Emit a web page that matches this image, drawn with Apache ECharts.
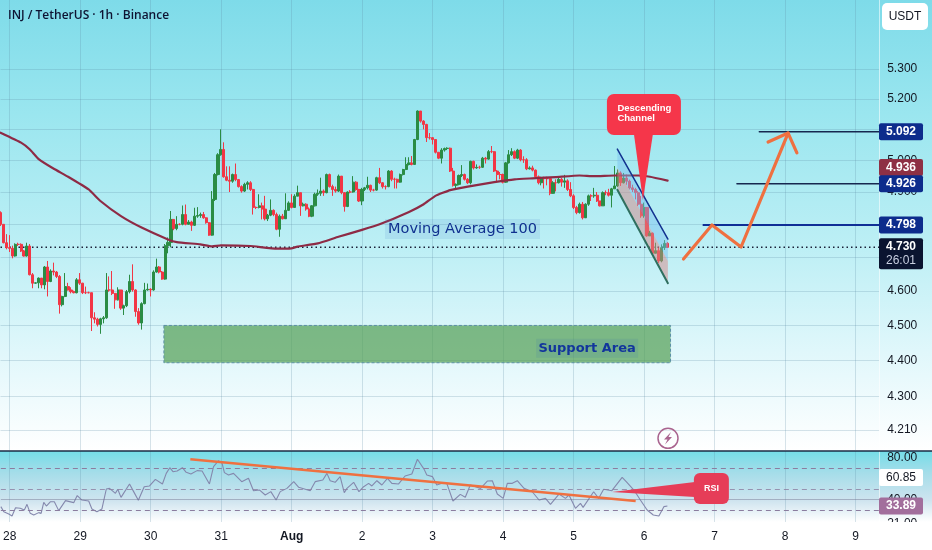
<!DOCTYPE html>
<html><head><meta charset="utf-8">
<style>html,body{margin:0;padding:0;background:#fff}#c{width:932px;height:550px}</style>
<script src="https://cdn.jsdelivr.net/npm/echarts@6/dist/echarts.min.js"></script>
</head><body><div id="c"></div>
<script>
const title = "INJ / TetherUS · 1h · Binance";
const firstOpen = 4.836;
const closes = [
4.800,4.744,4.729,4.727,4.704,4.739,4.739,4.719,4.704,4.734,
4.648,4.623,4.624,4.638,4.618,4.671,4.628,4.659,4.656,4.643,
4.560,4.584,4.613,4.603,4.598,4.595,4.633,4.623,4.595,4.595,
4.595,4.522,4.518,4.503,4.519,4.522,4.603,4.603,4.593,4.574,
4.603,4.550,4.557,4.598,4.628,4.603,4.540,4.507,4.563,4.603,
4.605,4.603,4.656,4.671,4.656,4.635,4.735,4.745,4.815,4.787,
4.800,4.800,4.830,4.800,4.807,4.797,4.825,4.827,4.830,4.820,
4.805,4.767,4.877,4.955,5.018,5.035,4.948,4.937,4.934,4.955,
4.939,4.917,4.903,4.924,4.929,4.908,4.852,4.852,4.857,4.847,
4.817,4.828,4.843,4.830,4.785,4.825,4.817,4.843,4.866,4.852,
4.887,4.898,4.857,4.862,4.847,4.825,4.857,4.893,4.896,4.903,
4.898,4.955,4.917,4.908,4.903,4.950,4.898,4.855,4.900,4.900,
4.931,4.908,4.872,4.908,4.913,4.921,4.906,4.906,4.945,4.929,
4.917,4.917,4.966,4.940,4.940,4.931,4.955,4.971,4.987,4.992,
4.987,5.067,5.160,5.127,5.116,5.073,5.073,5.067,5.026,5.007,
5.033,5.038,5.039,4.966,4.921,4.924,4.952,4.955,4.940,4.929,
4.997,4.976,4.978,4.978,5.007,5.004,5.028,5.028,4.966,4.955,
4.955,4.931,4.992,5.018,5.028,5.007,5.033,5.002,5.002,4.973,
4.976,4.969,4.948,4.929,4.945,4.942,4.942,4.896,4.929,4.929,
4.940,4.931,4.935,4.908,4.888,4.852,4.836,4.862,4.820,4.862,
4.888,4.888,4.890,4.872,4.857,4.898,4.898,4.890,4.910,4.919,
4.960,4.929,4.944,4.934,4.913,4.908,4.898,4.862,4.826,4.852,
4.765,4.773,4.712,4.720,4.689,4.729,4.742,4.730];
const highs = [
4.840,4.800,4.770,4.767,4.735,4.742,4.744,4.742,4.722,4.744,
4.740,4.653,4.625,4.640,4.636,4.674,4.689,4.664,4.684,4.659,
4.647,4.586,4.653,4.624,4.611,4.601,4.638,4.653,4.624,4.613,
4.598,4.595,4.538,4.522,4.522,4.527,4.653,4.643,4.659,4.592,
4.611,4.603,4.560,4.603,4.648,4.679,4.605,4.550,4.567,4.624,
4.622,4.608,4.661,4.696,4.674,4.659,4.740,4.760,4.841,4.815,
4.825,4.803,4.858,4.861,4.813,4.811,4.851,4.853,4.836,4.838,
4.822,4.807,4.903,4.960,5.023,5.100,5.058,4.981,4.981,4.958,
4.990,4.941,4.921,4.929,4.934,4.934,4.910,4.855,4.893,4.867,
4.888,4.832,4.877,4.846,4.836,4.830,4.832,4.896,4.871,4.893,
4.893,4.920,4.898,4.867,4.865,4.852,4.859,4.898,4.908,4.945,
4.908,4.958,4.958,4.923,4.917,4.955,4.950,4.900,4.902,4.906,
4.950,4.934,4.910,4.913,4.916,4.948,4.923,4.910,4.948,4.976,
4.931,4.921,4.969,4.969,4.945,4.942,4.958,4.973,5.010,5.010,
5.014,5.069,5.162,5.158,5.130,5.118,5.088,5.075,5.067,5.026,
5.039,5.041,5.042,5.041,4.976,4.927,4.955,4.985,4.958,4.944,
4.999,4.999,4.987,4.983,5.011,5.011,5.033,5.046,5.030,4.969,
4.963,4.958,4.995,5.033,5.039,5.032,5.037,5.036,5.013,5.007,
4.981,4.983,4.971,4.952,4.948,4.948,4.948,4.944,4.934,4.940,
4.945,4.944,4.954,4.940,4.931,4.893,4.857,4.867,4.869,4.865,
4.892,4.893,4.913,4.900,4.872,4.902,4.905,4.910,4.913,4.982,
4.971,4.965,4.960,4.955,4.939,4.923,4.913,4.903,4.888,4.867,
4.826,4.780,4.775,4.744,4.729,4.739,4.752,4.746];
const lows = [
4.795,4.742,4.724,4.716,4.697,4.702,4.734,4.716,4.702,4.702,
4.646,4.608,4.621,4.608,4.608,4.605,4.584,4.626,4.646,4.638,
4.534,4.555,4.582,4.601,4.593,4.593,4.593,4.618,4.591,4.591,
4.593,4.484,4.506,4.497,4.476,4.506,4.519,4.598,4.588,4.548,
4.572,4.545,4.530,4.553,4.593,4.598,4.525,4.502,4.488,4.561,
4.601,4.584,4.601,4.654,4.652,4.633,4.633,4.712,4.730,4.782,
4.782,4.797,4.797,4.797,4.803,4.780,4.795,4.820,4.820,4.817,
4.802,4.765,4.765,4.872,4.952,5.015,4.945,4.934,4.900,4.929,
4.934,4.914,4.898,4.900,4.908,4.903,4.830,4.847,4.849,4.815,
4.812,4.810,4.825,4.825,4.782,4.762,4.815,4.820,4.841,4.849,
4.852,4.887,4.826,4.855,4.842,4.822,4.822,4.855,4.888,4.888,
4.888,4.896,4.914,4.888,4.898,4.900,4.893,4.839,4.853,4.896,
4.898,4.904,4.869,4.859,4.903,4.908,4.900,4.902,4.904,4.925,
4.911,4.908,4.915,4.934,4.911,4.911,4.929,4.952,4.969,4.984,
4.984,4.986,5.065,5.122,5.100,5.059,5.067,5.051,5.022,5.004,
4.990,5.028,5.033,4.963,4.917,4.911,4.921,4.947,4.936,4.925,
4.924,4.971,4.973,4.973,4.976,4.990,5.002,5.023,4.963,4.934,
4.940,4.927,4.929,4.990,5.014,5.004,5.004,4.997,4.992,4.969,
4.971,4.965,4.944,4.924,4.921,4.911,4.921,4.890,4.900,4.902,
4.927,4.917,4.913,4.903,4.884,4.847,4.831,4.833,4.815,4.823,
4.857,4.872,4.882,4.869,4.855,4.857,4.890,4.886,4.852,4.910,
4.916,4.919,4.927,4.923,4.908,4.900,4.877,4.857,4.820,4.820,
4.762,4.764,4.707,4.712,4.683,4.685,4.722,4.728];

const maHours = [0,7,10,13,18,23,30,34,41,48,57,60,68,72,75,85,94,99,101,108,115,123,129,139,144,148,153,159,168,175,181,189,197,202,209,217,221,227];
const maValues = [5.089,5.057,5.035,5.004,4.974,4.948,4.908,4.872,4.825,4.790,4.754,4.746,4.739,4.733,4.736,4.734,4.726,4.727,4.732,4.742,4.762,4.783,4.800,4.838,4.862,4.888,4.906,4.917,4.931,4.940,4.943,4.947,4.952,4.950,4.952,4.952,4.948,4.936];

const rsiHours = [0,1,2.7,3.8,5,6.6,8,8.9,10,11.2,12.9,13.7,14.6,15.5,16.9,18.2,19.7,22,24.8,26,27.6,29.9,31,32.7,34.4,35.9,37,39,39.8,40.9,43.8,45.2,46.8,48.8,50.6,52.6,55,56.3,57.5,58.6,60,61.8,63.1,64.7,66.8,68.5,71,72.4,74.1,75.3,76.1,77.5,79.2,82,84.3,86,88.1,90,91.9,93.7,95.1,97.4,99.7,101.4,105.3,107,109.6,111,112.1,113.8,115.5,116.9,117.8,120.1,121.9,123.5,125.2,126.3,128,129.7,131.6,133.1,135.4,137.6,139.9,141.8,144.1,145,146.9,148.4,150.7,151.8,153.9,156.4,158.1,159.8,163.3,165.6,167.3,169,171,172.4,174.1,175.8,178.1,180.9,183.2,185.4,187.1,190,192.2,193.4,195.6,197.3,198.2,201.8,203.5,205.2,208,211.5,213.2,215.5,217.7,220,222.1,224,225.7,226.9];
const rsiValues = [33.2,28.4,26.2,24.3,32.2,31.6,30,35.4,26.8,25.2,27.5,26.8,37.3,33.8,37.9,37.9,29.4,38.9,37,43.7,39.5,38.6,31,28.4,31,50,50.6,45.9,49.7,42,54.8,47.5,39.2,52.2,52.9,59.2,54.8,64.9,70.3,66.5,67.1,70.3,65.9,64.3,67.5,67.1,54.8,71.3,77,74.4,65.6,63.3,64.9,57,60.2,48.4,49,44.3,47.5,39.5,47.5,50.6,57,51.6,48.4,57,58.6,64.9,57.9,56.4,61.8,46.5,50.6,56.4,47.5,52.2,55.4,52.9,57.9,53.8,60.2,55.4,54.8,62.4,64.3,78.3,68.7,63.3,61.8,53.8,56,55.4,38.6,44.9,42.1,53.8,50.6,57.6,57.9,45.2,41.1,55.4,55.4,57.9,50.6,47.4,39.5,41.1,35.4,45.2,41.1,44.3,31.6,36.3,32.5,47.4,41.1,49.7,48.4,61.1,56,49,39.5,30,25.2,24.3,33.2,33.89];

const priceTicks = [5.3,5.2,5.1,5.0,4.9,4.8,4.7,4.6,4.5,4.4,4.3,4.21];
const rsiTicks = [80,40,21];
const rsiBands = [70,50,30];
const rsiGrid = [40];
const dayLabels = ["28","29","30","31","Aug","2","3","4","5","6","7","8","9"];
const firstDayIndex = 3, hoursPerDay = 24, hourCount = 300;

const lastPrice = 4.730;
const tagValues = [5.092,4.936,4.926,4.798];
const tagTexts = ["5.092","4.936","4.926","4.798"];
const tagShift = [0,-13,0,0];
const levelValues = [5.092,4.926,4.798];
const levelStarts = [258.2,250.6,239.2];
const countdown = "26:01";
const rsiMaValue = 60.85, rsiLast = 33.89;

const pathHours = [232.4,242.1,252,268];
const pathPrices = [4.695,4.798,4.731,5.088];
const headHours = [261.2,268,271];
const headPrices = [5.059,5.088,5.024];
const channelHours = [209.9,227.1];
const channelTop = [5.036,4.755];
const channelMid = [4.976,4.689];
const channelBottom = [4.907,4.623];
const supportHours = [55.6,228];
const supportPrices = [4.5,4.394];
const rsiTrendHours = [64.5,216.1];
const rsiTrendValues = [78.3,38.6];
const notes = [["Moving Average 100",157.2,4.786,"400 14.5px 'DejaVu Sans'",'#10308f','rgba(70,120,200,0.13)',155,20],
               ["Support Area",199.6,4.435,"700 13px 'DejaVu Sans'",'#12359c','rgba(60,120,170,0.15)',102,19]];

const chart = echarts.init(document.getElementById('c'), null, {renderer:'canvas'});
const cats = [];
for (let i=0;i<hourCount;i++){
  const k=(i-firstDayIndex)/hoursPerDay;
  cats.push(Number.isInteger(k)&&dayLabels[k]?dayLabels[k]:'');
}
const isDay = i => cats[i]!=='';
const candles = closes.map((c,i)=>[i?closes[i-1]:firstOpen,c,lows[i],highs[i]]);
const GREEN='#2a8c44',RED='#f23645',ORANGE='#ef7040',NAVY='#0d2c8c';
const gridCfg=[{left:0.5,right:52.8,top:0,height:450},{left:0.5,right:52.8,top:451,height:71}];
const lineCol='rgba(90,140,165,0.24)';
const pairs=(xs,ys)=>xs.map((x,i)=>[x,ys[i]]);
const plain=(name,xs,ys,color,width,z,extra)=>Object.assign({type:'line',name,xAxisIndex:2,yAxisIndex:0,data:pairs(xs,ys),symbol:'none',silent:true,z,animation:false,lineStyle:{color,width,cap:'round',join:'round'}},extra||{});
const tagBox=(y,h,fill,text,text2,tc,weight)=>{
  const ch=[{type:'rect',shape:{x:879,y:y,width:44,height:h,r:2},style:{fill}},
  {type:'text',style:{text,x:901,y:y+8.5,align:'center',verticalAlign:'middle',fill:tc,font:(weight||700)+" 12px 'Liberation Sans'"}}];
  if(text2)ch.push({type:'text',style:{text:text2,x:901,y:y+22,align:'center',verticalAlign:'middle',fill:'#c8cfe0',font:"400 12px 'Liberation Sans'"}});
  return {type:'group',children:ch};
};
const rsiFill=()=>new echarts.graphic.LinearGradient(0,0,0,1,[{offset:0,color:'#74dde8'},{offset:.3,color:'#a4dde9'},{offset:.7,color:'#cfe4ef'},{offset:1,color:'#ffffff'}]);
const opt={
  animation:false,
  backgroundColor:'#fff',
  textStyle:{fontFamily:"'Liberation Sans'"},
  graphic:{elements:[
    {type:'rect',z:-10,silent:true,shape:{x:0,y:0,width:932,height:451},style:{fill:new echarts.graphic.LinearGradient(0,0,0,1,[{offset:0,color:'#7edbe9'},{offset:.25,color:'#9ae6ef'},{offset:.55,color:'#bdeff5'},{offset:.78,color:'#e0f7fb'},{offset:1,color:'#ffffff'}])}},
    {type:'rect',z:-10,silent:true,shape:{x:0,y:451,width:932,height:71},style:{fill:rsiFill()}},
    {type:'rect',z:1,silent:true,shape:{x:880,y:522,width:52,height:28},style:{fill:'#fff'}},
    {type:'line',z:2,silent:true,shape:{x1:0,y1:451,x2:932,y2:451},style:{stroke:'#1b2a45',lineWidth:1.5}},
    {type:'rect',z:20,silent:true,shape:{x:882,y:3,width:46,height:27,r:5},style:{fill:'#fff'}},
    {type:'text',z:21,silent:true,style:{text:'USDT',x:905,y:17,align:'center',verticalAlign:'middle',fill:'#131722',font:"400 12px 'Liberation Sans'"}},
    {type:'text',z:21,silent:true,style:{text:title,x:8,y:16,verticalAlign:'middle',fill:'#0e1433',font:"600 12px 'Open Sans'"}},
    {type:'circle',z:21,silent:true,shape:{cx:668,cy:438.3,r:10},style:{fill:'rgba(255,255,255,0.3)',stroke:'#a9648f',lineWidth:1.5}},
    {type:'polygon',z:22,silent:true,shape:{points:[[671,432],[664,439.5],[667.5,439.5],[665,444.5],[672,437],[668.5,437]]},style:{fill:'#a9648f'}}
  ]},
  grid:gridCfg,
  xAxis:[
    {type:'category',gridIndex:0,data:cats,boundaryGap:false,axisLine:{show:false},axisTick:{show:false},axisLabel:{show:false},splitLine:{show:true,interval:i=>isDay(i),lineStyle:{color:lineCol,width:1}}},
    {type:'category',gridIndex:1,data:cats,boundaryGap:false,axisLine:{show:false},axisTick:{show:false},
     axisLabel:{interval:i=>isDay(i),margin:9,color:'#131722',fontSize:12,fontFamily:"'Liberation Sans'",formatter:v=>v==='Aug'?'{b|Aug}':v,rich:{b:{fontWeight:700,fontSize:12,color:'#131722'}}},
     splitLine:{show:true,interval:i=>isDay(i),lineStyle:{color:lineCol,width:1}}},
    {type:'value',gridIndex:0,min:0,max:hourCount-1,show:false},
    {type:'value',gridIndex:1,min:0,max:hourCount-1,show:false}
  ],
  yAxis:[
    {type:'log',logBase:10,gridIndex:0,position:'right',min:4.156,max:5.539,
     axisLine:{show:true,onZero:false,lineStyle:{color:'rgba(255,255,255,0.55)',width:1}},
     axisTick:{show:false,customValues:priceTicks},
     axisLabel:{customValues:priceTicks,align:'left',margin:8,color:'#131722',fontSize:12,fontFamily:"'Liberation Sans'",
       formatter:v=>Number(v).toFixed(3)},
     splitLine:{show:true,lineStyle:{color:lineCol,width:1}}},
    {type:'value',gridIndex:1,position:'right',min:18.57,max:86.2,
     axisLine:{show:true,onZero:false,lineStyle:{color:'rgba(255,255,255,0.55)',width:1}},
     axisTick:{show:false,customValues:rsiTicks},
     axisLabel:{customValues:rsiTicks,align:'left',margin:8,color:'#131722',fontSize:12,fontFamily:"'Liberation Sans'",
       formatter:v=>v===21?'{c|21.00}':v.toFixed(2),rich:{c:{padding:[9,0,0,0],fontSize:12,color:'#131722'}}},
     splitLine:{show:false}}
  ],
  series:[
    {type:'custom',name:'Support',xAxisIndex:2,yAxisIndex:0,z:1,silent:true,data:[[supportHours[0],supportPrices[0],supportHours[1],supportPrices[1]]],
     renderItem:(p,api)=>{const a=api.coord([api.value(0),api.value(1)]),b=api.coord([api.value(2),api.value(3)]);
       return {type:'rect',shape:{x:a[0],y:a[1],width:b[0]-a[0],height:b[1]-a[1]},style:{fill:'rgba(82,158,83,0.7)',stroke:'#5b8fa6',lineWidth:1,lineDash:[3,2]}};}},
    {type:'candlestick',name:'INJ',xAxisIndex:0,yAxisIndex:0,data:candles,barWidth:2.6,z:2,silent:true,clip:false,
     itemStyle:{color:GREEN,color0:RED,borderColor:GREEN,borderColor0:RED,borderColorDoji:RED,borderWidth:1}},
    plain('Last',[0,hourCount-1],[lastPrice,lastPrice],'#27304a',1.2,2,{lineStyle:{color:'#1a2138',width:1.5,type:[1.5,3]}}),
    plain('MA 100',maHours,maValues,'#8e2a45',2.2,3,{smooth:0.12}),
    {type:'custom',name:'Channel',xAxisIndex:2,yAxisIndex:0,z:4,silent:true,data:[[channelHours[0],channelTop[0]]],
     renderItem:(p,api)=>{const pts=(u,l)=>[api.coord([channelHours[0],u[0]]),api.coord([channelHours[1],u[1]]),api.coord([channelHours[1],l[1]]),api.coord([channelHours[0],l[0]])];
       return {type:'group',children:[
        {type:'polygon',shape:{points:pts(channelTop,channelMid)},style:{fill:'rgba(120,190,240,0.45)'}},
        {type:'polygon',shape:{points:pts(channelMid,channelBottom)},style:{fill:'rgba(215,135,135,0.5)'}}]};}},
    plain('Channel top',channelHours,channelTop,'#12328f',1.5,5),
    plain('Channel bottom',channelHours,channelBottom,'#2f6f5f',2,5),
    ...levelValues.map((v,i)=>plain('Level '+v,[levelStarts[i],hourCount-1],[v,v],i==2?'#0f2f96':'#16274f',i==2?2:1.5,5)),
    plain('Path',pathHours,pathPrices,ORANGE,3.2,6),
    plain('Head',headHours,headPrices,ORANGE,3.2,6),
    {type:'custom',name:'Notes',xAxisIndex:2,yAxisIndex:0,z:7,silent:true,data:notes.map((n,i)=>[n[1],n[2],i]),
     renderItem:(p,api)=>{const c=api.coord([api.value(0),api.value(1)]),n=notes[api.value(2)];
       return {type:'group',children:[
        {type:'rect',shape:{x:c[0]-n[6]/2,y:c[1]-n[7]/2,width:n[6],height:n[7]},style:{fill:n[5]}},
        {type:'text',style:{text:n[0],x:c[0],y:c[1],align:'center',verticalAlign:'middle',fill:n[4],font:n[3]}}]};}},
    {type:'custom',name:'Descending callout',xAxisIndex:2,yAxisIndex:0,z:8,silent:true,data:[[218.6,4.875]],
     renderItem:(p,api)=>{const c=api.coord([api.value(0),api.value(1)]),X=c[0],Y=c[1];
       return {type:'group',children:[
        {type:'polygon',shape:{points:[[X-9,Y-66],[X+10,Y-66],[X,Y]]},style:{fill:'#f5364a'}},
        {type:'rect',shape:{x:X-36,y:Y-106,width:74,height:41,r:7},style:{fill:'#f5364a'}},
        {type:'text',style:{text:'Descending',x:X-25.5,y:Y-92,verticalAlign:'middle',fill:'#fff',font:"700 9.5px 'Liberation Sans'"}},
        {type:'text',style:{text:'Channel',x:X-25.5,y:Y-82,verticalAlign:'middle',fill:'#fff',font:"700 9.5px 'Liberation Sans'"}}]};}},
    {type:'custom',name:'Tags',xAxisIndex:2,yAxisIndex:0,z:10,silent:true,data:tagValues.map((v,i)=>[hourCount-1,v,i]),
     renderItem:(p,api)=>{const i=api.value(2),y=api.coord([0,api.value(1)])[1]+tagShift[i];
       return tagBox(y-8.5,17,i==1?'#8e3044':NAVY,tagTexts[i],null,'#fff');}},
    {type:'custom',name:'Last tag',xAxisIndex:2,yAxisIndex:0,z:11,silent:true,data:[[hourCount-1,lastPrice]],
     renderItem:(p,api)=>{const y=api.coord([0,api.value(1)])[1];return tagBox(y-9,31,'#0a1430',lastPrice.toFixed(3),countdown,'#fff');}},
    {type:'line',name:'RSI',xAxisIndex:3,yAxisIndex:1,data:pairs(rsiHours,rsiValues),symbol:'none',silent:true,z:3,lineStyle:{color:'#8488ad',width:1.1},
     markLine:{silent:true,symbol:'none',label:{show:false},animation:false,data:rsiBands.map(v=>({yAxis:v,lineStyle:{color:'#8b7d9f',type:[5,4],width:v==50?0.8:1}})).concat(rsiGrid.map(v=>({yAxis:v,lineStyle:{color:'rgba(110,110,140,0.45)',type:'solid',width:1}})))}},
    {type:'line',name:'RSI trend',xAxisIndex:3,yAxisIndex:1,data:pairs(rsiTrendHours,rsiTrendValues),symbol:'none',silent:true,z:5,lineStyle:{color:ORANGE,width:2.5}},
    {type:'custom',name:'RSI callout',xAxisIndex:3,yAxisIndex:1,z:8,silent:true,data:[[208,47.1]],
     renderItem:(p,api)=>{const c=api.coord([api.value(0),api.value(1)]),X=c[0],Y=c[1];
       return {type:'group',children:[
        {type:'polygon',shape:{points:[[X,Y],[X+83,Y-10],[X+83,Y+5]]},style:{fill:'#e63d58'}},
        {type:'rect',shape:{x:X+82,y:Y-19,width:35,height:31,r:6},style:{fill:'#e63d58'}},
        {type:'text',style:{text:'RSI',x:X+99.5,y:Y-3.5,align:'center',verticalAlign:'middle',fill:'#fff',font:"700 9px 'Liberation Sans'"}}]};}},
    {type:'custom',name:'RSI tags',xAxisIndex:3,yAxisIndex:1,z:10,silent:true,data:[[hourCount-1,rsiMaValue],[hourCount-1,rsiLast]],
     renderItem:(p,api)=>{const v=api.value(1),y=api.coord([0,v])[1];
       return v>50?tagBox(y-8.5,17,'#fff',v.toFixed(2),null,'#131722',400):tagBox(y-8.5,17,'#a26e9c',v.toFixed(2),null,'#fff');}}
  ]
};
chart.setOption(opt);
</script></body></html>
